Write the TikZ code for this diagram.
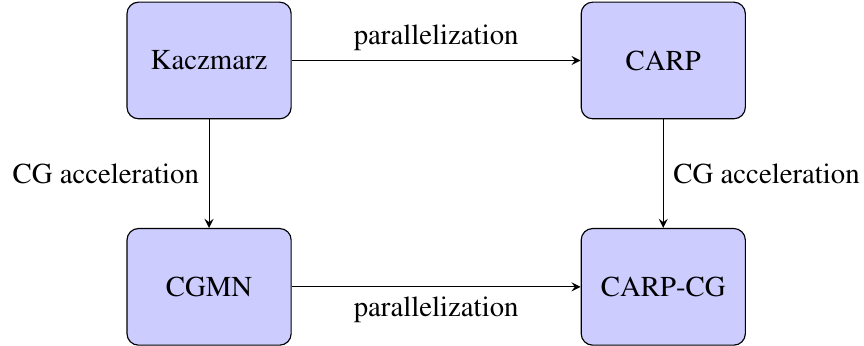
\documentclass[tikz,border=0pt]{standalone}
\usepackage[T1]{fontenc}
\usepackage{mathptmx}
\usepackage{xcolor}
\usepackage{tikz}
\usetikzlibrary{positioning,arrows}

\begin{document}
\begin{tikzpicture}[x=1pt, y=1pt,
    block/.style = {draw, rounded corners, fill=blue!20,
      minimum width=57pt, minimum height=40.5pt},
    link/.style = {-stealth}]
    \useasboundingbox (0,0) rectangle (300,120.1);

    \node[block] (kacz) at (72.6,99.1) {Kaczmarz};
    \node[block, right=100.3pt of kacz] (carp) {CARP};
    \node[block, below=37.7pt of kacz] (cgmn) {CGMN};
    \node[block, below=37.7pt of carp] (carpcg) {CARP-CG};

    \draw[link] (kacz) -- node[above] {parallelization} (carp);
    \draw[link] (cgmn) -- node[below] {parallelization} (carpcg);
    \draw[link] (kacz) -- node[left] {CG acceleration} (cgmn);
    \draw[link] (carp) -- node[right] {CG acceleration} (carpcg);
\end{tikzpicture}
\end{document}
